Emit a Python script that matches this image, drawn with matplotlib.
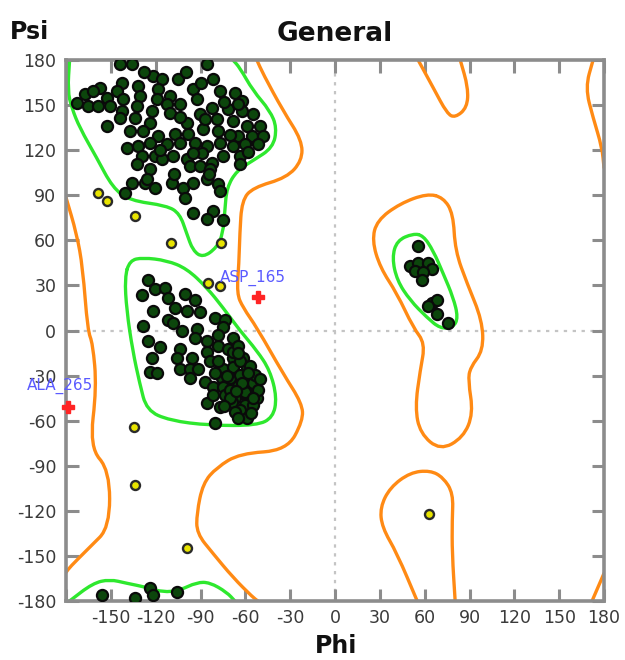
import matplotlib
matplotlib.use("Agg")
import matplotlib.pyplot as plt
from matplotlib.path import Path
from matplotlib.patches import PathPatch
import numpy as np

# ── Style ─────────────────────────────────────────────────────────────────────
matplotlib.rcParams.update({
    "font.family": "DejaVu Sans",
    "axes.unicode_minus": False,
})

ORANGE = "#ff8a14"
GREEN = "#2ee82e"
DOT_FACE = "#0c460c"
DOT_EDGE = "#0a0a0a"
YELLOW = "#e8e400"
GRID_GREY = "#c4c4c4"
AXIS_GREY = "#8c8c8c"

# ── Data (phi, psi in degrees) ────────────────────────────────────────────────
TICKS = list(range(-180, 181, 30))
X_TICK_LABELS = [""] + [str(t) for t in TICKS[1:]]
Y_TICK_LABELS = [str(t) for t in TICKS]

# favoured residues, beta region
beta_phi = [-144.0, -136.0, -85.8, -121.9, -115.9, -105.2, -81.7, -142.7, -132.0, -157.5,
            -167.5, -162.1, -172.9, -152.8, -146.1, -142.0, -130.7, -118.6, -119.3, -110.6,
            -95.1, -92.5, -77.1, -67.0, -62.3, -165.5, -158.8, -150.8, -142.7, -132.7,
            -122.6, -112.6, -103.9, -82.4, -71.7, -62.3, -54.9, -152.8, -144.0, -134.0,
            -124.0, -110.6, -99.2, -90.5, -79.1, -68.3, -59.0, -50.3, -137.4, -128.6,
            -118.6, -107.2, -98.5, -88.4, -78.4, -65.0, -55.6, -48.2, -139.4, -132.0,
            -124.0, -112.6, -103.9, -93.8, -85.8, -77.1, -68.3, -60.3, -51.6, -129.3,
            -120.6, -115.9, -108.5, -99.2, -89.1, -82.4, -75.0, -63.7, -132.7, -124.0,
            -97.2, -90.5, -83.8, -63.7, -136.0, -127.3, -120.6, -109.2, -101.8, -95.1,
            -85.8, -78.4, -77.1, -140.7, -100.5, -95.1, -81.7, -85.8, -75.0,
            -100.0, -90.0, -128.0, -65.0, -104.0, -87.0, -117.0, -95.0, -70.0, -58.0,
            -108.0, -126.0, -74.0, -84.0]
beta_psi = [177.6, 177.6, 177.6, 169.6, 167.6, 167.6, 167.6, 164.9, 162.9, 161.6,
            157.6, 159.6, 151.6, 154.9, 159.6, 154.3, 156.3, 160.9, 154.3, 156.3,
            160.9, 154.3, 159.6, 158.3, 153.0, 149.6, 149.6, 149.6, 146.3, 149.6,
            146.3, 151.0, 151.0, 148.3, 147.6, 146.3, 144.3, 136.3, 141.6, 141.6,
            138.3, 145.0, 138.3, 144.3, 141.0, 139.7, 136.3, 136.3, 133.0, 133.0,
            129.7, 131.0, 131.0, 134.3, 133.0, 129.7, 129.7, 129.7, 121.7, 123.0,
            125.0, 124.4, 125.0, 125.0, 123.0, 125.0, 123.0, 124.4, 124.4, 116.4,
            116.4, 114.4, 116.4, 114.4, 118.4, 111.7, 116.4, 116.4, 111.1, 107.7,
            109.7, 109.7, 107.7, 111.1, 98.4, 98.4, 95.1, 98.4, 95.1, 98.4,
            101.1, 97.8, 93.1, 91.8, 88.4, 78.5, 79.8, 74.5, 73.2,
            172.0, 165.0, 172.0, 151.0, 142.0, 141.0, 120.0, 118.0, 130.0, 119.0,
            104.0, 101.0, 152.0, 104.0]

# favoured residues, right-handed alpha region
alpha_phi = [-125.3, -120.6, -113.9, -129.3, -111.9, -100.5, -93.8, -107.2, -99.2, -121.9,
             -90.5, -111.9, -108.5, -80.4, -73.7, -75.0, -128.6, -102.5, -92.5, -93.8,
             -85.8, -78.4, -68.3, -71.7, -125.3, -117.3, -103.9, -85.8, -122.6, -105.9,
             -95.8, -83.8, -68.3, -61.6, -103.9, -97.2, -91.8, -75.0, -68.3, -59.0,
             -124.0, -119.3, -97.2, -87.1, -75.7, -70.4, -63.7, -57.0, -81.7, -75.0,
             -65.0, -59.0, -54.9, -73.7, -67.0, -58.3, -52.3, -85.8, -77.1, -69.0,
             -60.3, -63.7, -59.0, -80.4, -68.3, -63.7, -57.0, -60.3, -54.9, -70.4,
             -81.7, -51.6, -53.6, -78.4, -65.0, -80.4, -67.0,
             -65.0, -58.0, -62.0, -70.0, -55.0, -65.0, -72.0, -78.0, -56.0, -50.0,
             -74.0, -66.0]
alpha_psi = [33.3, 27.9, 28.6, 23.3, 21.9, 24.6, 20.0, 15.3, 13.3, 13.3,
             12.0, 6.7, 5.3, 8.6, 6.7, 2.0, 3.3, 0.0, 1.3, -4.7,
             -6.7, -10.0, -4.7, -12.0, -6.7, -11.3, -12.0, -14.6, -18.6, -18.6,
             -18.6, -20.0, -18.0, -18.0, -25.3, -25.3, -25.3, -25.3, -24.6, -24.6,
             -27.9, -28.6, -31.9, -34.6, -31.3, -31.3, -29.9, -29.9, -37.9, -37.9,
             -36.6, -37.9, -35.2, -43.2, -44.6, -44.6, -44.6, -48.5, -51.2, -47.9,
             -49.9, -53.2, -57.9, -61.8, -14.6, -20.0, -23.3, -41.2, -49.9, -39.9,
             -43.2, -39.9, -29.9, -3.3, -10.0, -28.6, -54.5,
             -15.0, -28.0, -35.0, -45.0, -45.0, -58.0, -30.0, -20.0, -55.0, -32.0,
             -50.0, -40.0]

# favoured residues, left-handed alpha region
lalpha_phi = [55.6, 50.3, 55.6, 62.3, 65.0, 53.6, 59.0, 58.3, 65.0, 68.3, 62.3, 68.3, 75.7]
lalpha_psi = [56.5, 43.2, 45.2, 45.2, 41.2, 39.9, 38.6, 33.3, 18.6, 20.0, 16.6, 11.3, 5.3]

# favoured residues wrapped onto the bottom edge
edge_phi = [-156.1, -134.0, -124.0, -121.9, -105.9]
edge_psi = [-176.2, -178.2, -171.6, -176.2, -174.2]

# allowed residues
allowed_phi = [-158.6, -152.6, -133.9, -109.8, -76.3, -85.0, -77.0, -134.5, -133.9, -99.1, 62.9]
allowed_psi = [91.2, 86.5, 76.5, 58.5, 58.5, 31.3, 29.3, -64.5, -102.5, -145.0, -121.8]

# outliers
outlier_names = ["ASP_165", "ALA_265"]
outlier_phi = [-51.5, -178.7]
outlier_psi = [22.0, -51.0]
outlier_label_phi = [-77.0, -206.0]
outlier_label_psi = [35.0, -36.6]

# ── Contours (allowed = orange, favoured = green) ─────────────────────────────
orange_lines = [
    # right boundary of the big left region
    ([-52.3, -48.2, -34.8, -22.1, -22.1, -32.2, -54.9, -62.3, -63.7, -64.3, -65.7, -61.6,
      -52.3, -34.8, -22.1, -21.4, -32.2, -63.7, -79.1, -88.4, -92.5, -92.5, -81.7, -68.3,
      -54.9, -51.6],
     [180, 170.9, 146.3, 126.4, 113.1, 101.7, 95.1, 86.5, 64.5, 44.6, 24.6, 15.3,
      2.0, -28.6, -48.5, -59.9, -79.8, -81.8, -91.1, -101.7, -121.7, -135.0, -148.3, -164.3,
      -177.6, -180]),
    # left boundary near phi = -180
    ([-180, -172.9, -168.8, -165.5, -162.1, -159.5, -164.2, -150.8, -150.8, -164.2, -177.6, -180],
     [88.5, 64.5, 41.9, 0.0, -8.6, -37.9, -77.8, -93.1, -131.0, -144.3, -157.6, -161.0]),
    # wrap-around on the right edge, top
    ([172.7, 167.5, 172.7, 178.7, 180],
     [180, 161.6, 141.6, 121.7, 108.4]),
    # wrap-around on the right edge, bottom
    ([172.0, 180], [-180, -161.6]),
    # top U near phi = 70
    ([55.6, 65.7, 75.0, 80.4, 88.4, 89.1, 83.8],
     [180, 161.6, 144.3, 141.6, 148.3, 161.6, 180]),
    # bottom lobe near phi = 60
    ([55.0, 41.5, 31.5, 30.2, 36.9, 50.3, 63.7, 72.4, 79.1, 78.4, 78.4, 80.4],
     [-180, -148.3, -131.0, -117.7, -104.4, -94.5, -93.1, -97.8, -108.4, -126.4, -148.3, -180]),
    # left-handed alpha loop
    ([61.6, 43.5, 28.1, 24.8, 30.2, 41.5, 52.3, 60.3, 57.0, 53.6, 57.0, 70.4, 85.8, 92.5,
      89.1, 90.5, 99.2, 98.5, 88.4, 80.4, 79.1, 72.4, 61.6],
     [91.1, 84.5, 73.2, 59.9, 41.9, 24.6, 2.0, -8.6, -26.6, -51.2, -68.5, -79.8, -71.2, -55.2,
      -33.3, -24.6, -13.3, 6.7, 31.3, 53.2, 77.8, 88.5, 91.1]),
]

green_lines = [
    # beta region
    ([-177.6, -178.9, -176.2, -170.9, -159.5, -148.8, -137.4, -112.6, -103.9, -99.2, -95.1,
      -88.4, -79.1, -75.0, -73.7, -72.4, -65.7, -54.9, -41.5, -38.9, -43.5, -54.9, -63.7, -68.3],
     [180, 159.6, 148.3, 135.0, 115.0, 95.1, 86.5, 83.1, 77.8, 64.5, 53.2,
      48.5, 55.2, 64.5, 79.8, 95.1, 106.4, 113.1, 121.7, 135.0, 146.3, 159.6, 174.9, 180]),
    # beta wrap on the bottom edge
    ([-177.6, -162.1, -150.8, -139.4, -126.0, -115.2, -103.9, -92.5, -83.8, -72.4, -67.0],
     [-180, -168.2, -165.6, -168.2, -170.9, -174.2, -172.9, -167.6, -167.6, -174.2, -180]),
    # right-handed alpha
    ([-137.4, -128.6, -112.6, -99.2, -85.8, -75.0, -63.7, -52.3, -43.5, -38.9, -41.5, -52.3,
      -83.8, -110.6, -126.0, -130.7, -135.4, -139.4, -140.7, -137.4],
     [46.6, 48.5, 46.6, 41.2, 28.6, 15.3, 0.0, -13.3, -26.6, -44.6, -57.9, -63.2,
      -63.2, -59.9, -53.2, -35.2, -13.3, 13.3, 35.2, 46.6]),
    # left-handed alpha
    ([52.3, 41.5, 38.2, 41.5, 50.3, 61.6, 70.4, 79.1, 82.4, 79.1, 72.4, 65.7, 59.0, 52.3],
     [64.5, 59.9, 48.5, 33.3, 20.0, 8.6, 1.3, 2.0, 8.6, 22.0, 37.9, 53.2, 63.2, 64.5]),
]


# ── Helper ────────────────────────────────────────────────────────────────────
def smooth_path(xs, ys):
    """Quadratic B-spline style path through the traced vertices."""
    p = np.column_stack([xs, ys]).astype(float)
    closed = np.allclose(p[0], p[-1])
    if closed:
        p = p[:-1]
        n = len(p)
        mids = (p + np.roll(p, -1, axis=0)) / 2
        verts = [mids[-1]]
        codes = [Path.MOVETO]
        for i in range(n):
            verts += [p[i], mids[i]]
            codes += [Path.CURVE3, Path.CURVE3]
        return Path(verts, codes)
    mids = (p[:-1] + p[1:]) / 2
    verts = [p[0], mids[0]]
    codes = [Path.MOVETO, Path.LINETO]
    for i in range(1, len(p) - 1):
        verts += [p[i], mids[i]]
        codes += [Path.CURVE3, Path.CURVE3]
    verts.append(p[-1])
    codes.append(Path.LINETO)
    return Path(verts, codes)


# ── Figure ────────────────────────────────────────────────────────────────────
fig = plt.figure(figsize=(6.25, 6.6), dpi=100)
ax = fig.add_axes([66 / 625, 1 - 601 / 660, (604 - 66) / 625, (601 - 60) / 660])

ax.axvline(0, color=GRID_GREY, lw=1.6, ls=(0, (1.5, 2.5)), zorder=1)
ax.axhline(0, color=GRID_GREY, lw=1.6, ls=(0, (1.5, 2.5)), zorder=1)

for lines, colour in ((orange_lines, ORANGE), (green_lines, GREEN)):
    for xs, ys in lines:
        ax.add_patch(PathPatch(smooth_path(xs, ys), fill=False, edgecolor=colour,
                               lw=2.4, joinstyle="round", capstyle="round", zorder=2))

fav_phi = beta_phi + alpha_phi + lalpha_phi + edge_phi
fav_psi = beta_psi + alpha_psi + lalpha_psi + edge_psi
ax.scatter(fav_phi, fav_psi, s=64, c=DOT_FACE, edgecolors=DOT_EDGE,
           linewidths=1.6, zorder=3)
ax.scatter(allowed_phi, allowed_psi, s=42, c=YELLOW, edgecolors="#2a2a2a",
           linewidths=1.7, zorder=3)

ax.plot(outlier_phi, outlier_psi, ls="none", marker="P", ms=8.5,
        color="#ff2424", mec="#ff2424", zorder=4, clip_on=False)
for name, lx, ly in zip(outlier_names, outlier_label_phi, outlier_label_psi):
    ax.text(lx, ly, name, color="#5a5aff", fontsize=11, ha="left", va="center",
            clip_on=False, zorder=5)

ax.set_xlim(-180, 180)
ax.set_ylim(-180, 180)
ax.set_xticks(TICKS)
ax.set_yticks(TICKS)
ax.set_xticklabels(X_TICK_LABELS)
ax.set_yticklabels(Y_TICK_LABELS)
ax.tick_params(direction="in", length=9, width=2.2, color=AXIS_GREY,
               top=True, right=True, labelsize=12.5, labelcolor="#3a3a3a")
ax.tick_params(axis="x", pad=6)
ax.tick_params(axis="y", pad=7)
for side in ax.spines.values():
    side.set_color(AXIS_GREY)
    side.set_linewidth(2.6)

ax.set_title("General", fontsize=19, fontweight="bold", pad=14, color="#111111")
fig.text(10 / 625, 1 - 32 / 660, "Psi", fontsize=17, fontweight="bold",
         ha="left", va="center", color="#111111")
fig.text(336 / 625, 1 - 646 / 660, "Phi", fontsize=17, fontweight="bold",
         ha="center", va="center", color="#111111")

fig.savefig("out.png", dpi=100)
